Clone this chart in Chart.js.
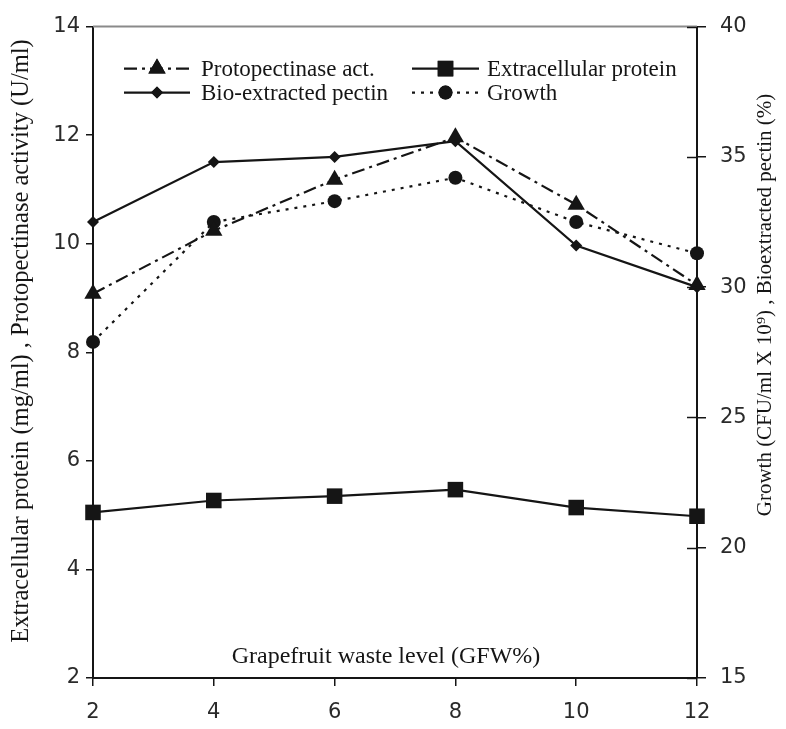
<!DOCTYPE html>
<html><head><meta charset="utf-8">
<script src="https://cdn.jsdelivr.net/npm/chart.js@4/dist/chart.umd.min.js"></script>
<style>html,body{margin:0;padding:0;background:#fff}#wrap{width:786px;height:729px;position:relative}</style>
</head><body><div id="wrap"><canvas id="c" width="786" height="729"></canvas></div>
<script>
// ---- data ----
const gfwLevels = [2, 4, 6, 8, 10, 12];
const protopectinase = [9.08, 10.24, 11.18, 11.96, 10.72, 9.24];      // U/ml (left axis)
const extracellularProtein = [5.05, 5.27, 5.35, 5.47, 5.14, 4.98];    // mg/ml (left axis)
const bioPectin = [32.5, 34.8, 35.0, 35.6, 31.6, 30.0];               // % (right axis)
const growth = [27.9, 32.5, 33.3, 34.2, 32.5, 31.3];                  // CFU/ml x10^9 (right axis)
const xTicks = [2, 4, 6, 8, 10, 12];
const leftTicks = [2, 4, 6, 8, 10, 12, 14];
const rightTicks = [15, 20, 25, 30, 35, 40];
const seriesLabels = ['Protopectinase act.', 'Extracellular protein', 'Bio-extracted pectin', 'Growth'];
const xTitle = 'Grapefruit waste level (GFW%)';
const leftTitle = 'Extracellular protein (mg/ml) , Protopectinase activity (U/ml)';
const rightTitle = 'Growth (CFU/ml X 10\u2079) , Bioextracted pectin (%)';

const INK = '#151515';
const pts = arr => gfwLevels.map((x, i) => ({x, y: arr[i]}));

const datasets = [
  {label: seriesLabels[0], data: pts(protopectinase), yAxisID: 'y', borderDash: [13, 5, 3, 5],
   pointStyle: 'triangle', pointRadius: 10},
  {label: seriesLabels[1], data: pts(extracellularProtein), yAxisID: 'y', borderDash: [],
   pointStyle: 'rect', pointRadius: 11},
  {label: seriesLabels[2], data: pts(bioPectin), yAxisID: 'y1', borderDash: [],
   pointStyle: 'rectRot', pointRadius: 6},
  {label: seriesLabels[3], data: pts(growth), yAxisID: 'y1', borderDash: [3, 6],
   pointStyle: 'circle', pointRadius: 7}
].map(d => Object.assign({
  borderColor: INK, backgroundColor: INK, pointBackgroundColor: INK, pointBorderColor: INK,
  borderWidth: 2.2, pointBorderWidth: 0, tension: 0, fill: false, clip: false,
  pointHoverRadius: d.pointRadius
}, d));

function drawMarker(ctx, style, r, x, y) {
  if (Chart.helpers && Chart.helpers.drawPoint) {
    Chart.helpers.drawPoint(ctx, {pointStyle: style, radius: r, borderWidth: 0, rotation: 0}, x, y);
    ctx.fill();
  }
}

function rotatedText(ctx, text, x, y) {
  ctx.save();
  ctx.translate(x, y); ctx.rotate(-Math.PI / 2);
  ctx.textAlign = 'center'; ctx.textBaseline = 'middle';
  ctx.fillText(text, 0, 0);
  ctx.restore();
}

const overlay = {
  id: 'overlay',
  afterDraw(chart) {
    const ctx = chart.ctx, a = chart.chartArea;
    ctx.save();
    // top frame line
    ctx.strokeStyle = '#8a8a8a'; ctx.lineWidth = 2; ctx.setLineDash([]);
    ctx.beginPath(); ctx.moveTo(a.left, a.top); ctx.lineTo(a.right, a.top); ctx.stroke();
    // inner half of the right-axis ticks
    const y1 = chart.scales.y1;
    ctx.strokeStyle = INK; ctx.lineWidth = 1.5;
    y1.ticks.forEach(t => {
      const py = Math.round(y1.getPixelForValue(t.value)) + 0.5;
      ctx.beginPath(); ctx.moveTo(a.right - 10, py); ctx.lineTo(a.right, py); ctx.stroke();
    });
    // axis titles (both read bottom-to-top)
    ctx.fillStyle = INK;
    ctx.font = '24.5px "Liberation Serif"';
    rotatedText(ctx, leftTitle, 22, 341);
    ctx.font = '21px "Liberation Serif"';
    rotatedText(ctx, rightTitle, 765, 305);
    // x title inside plot
    ctx.font = '24px "Liberation Serif"';
    ctx.textAlign = 'center'; ctx.textBaseline = 'middle';
    ctx.fillText(xTitle, (a.left + a.right) / 2 - 9, a.bottom - 21);
    // legend
    const cols = [{x0: a.left + 31, x1: a.left + 97, tx: a.left + 108},
                  {x0: a.left + 319, x1: a.left + 386, tx: a.left + 394}];
    const rows = [a.top + 42, a.top + 66];
    const order = [[0, 0, 0], [1, 1, 0], [2, 0, 1], [3, 1, 1]];
    ctx.font = '23px "Liberation Serif"'; ctx.textAlign = 'left';
    order.forEach(([di, ci, ri]) => {
      const ds = chart.data.datasets[di], c = cols[ci], y = rows[ri];
      ctx.strokeStyle = INK; ctx.lineWidth = 2.2; ctx.setLineDash(ds.borderDash);
      ctx.beginPath(); ctx.moveTo(c.x0, y); ctx.lineTo(c.x1, y); ctx.stroke();
      ctx.setLineDash([]);
      ctx.fillStyle = INK;
      drawMarker(ctx, ds.pointStyle, ds.pointRadius, (c.x0 + c.x1) / 2, y);
      ctx.fillText(ds.label, c.tx, y + 1);
    });
    ctx.restore();
  }
};

const tickFont = {family: '"DejaVu Sans"', size: 21};
new Chart(document.getElementById('c'), {
  type: 'line',
  data: {datasets},
  options: {
    responsive: false, animation: false, devicePixelRatio: 1,
    layout: {padding: {top: 23, left: 0, right: 0, bottom: 0}},
    plugins: {legend: {display: false}, tooltip: {enabled: false}},
    scales: {
      x: {
        type: 'linear', min: 2, max: 12,
        afterBuildTicks: s => { s.ticks = xTicks.map(v => ({value: v})); },
        afterFit: s => { s.height = 51; },
        grid: {drawOnChartArea: false, drawTicks: true, tickLength: 8, color: INK, lineWidth: 1.5},
        border: {display: true, color: INK, width: 2},
        ticks: {font: tickFont, color: '#2a2a2a', padding: 14, maxRotation: 0}
      },
      y: {
        position: 'left', min: 2, max: 14,
        afterBuildTicks: s => { s.ticks = leftTicks.map(v => ({value: v})); },
        afterFit: s => { s.width = 93; },
        grid: {drawOnChartArea: false, drawTicks: true, tickLength: 7, color: INK, lineWidth: 1.5},
        border: {display: true, color: INK, width: 2},
        ticks: {font: tickFont, color: '#2a2a2a', padding: 6}
      },
      y1: {
        position: 'right', min: 15, max: 40,
        afterBuildTicks: s => { s.ticks = rightTicks.map(v => ({value: v})); },
        afterFit: s => { s.width = 89; },
        grid: {drawOnChartArea: false, drawTicks: true, tickLength: 9, color: INK, lineWidth: 1.5},
        border: {display: true, color: INK, width: 2},
        ticks: {font: tickFont, color: '#2a2a2a', padding: 14}
      }
    }
  },
  plugins: [overlay]
});
</script></body></html>
